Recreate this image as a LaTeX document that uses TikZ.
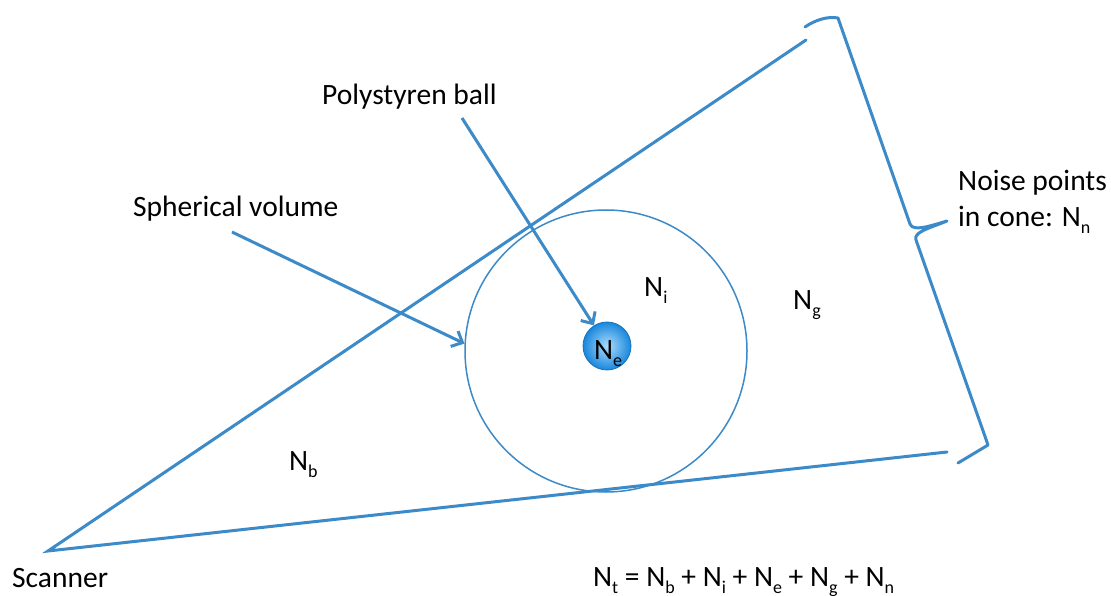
\documentclass[tikz,border=0pt]{standalone}
\usepackage{fontspec}
\setmainfont{Carlito}
\usetikzlibrary{arrows.meta}
\definecolor{lineblue}{RGB}{60,138,200}
\definecolor{ballin}{RGB}{170,220,252}
\definecolor{ballout}{RGB}{25,135,220}
\newcommand\mysub[1]{\raisebox{-0.24em}{\fontsize{18}{18}\selectfont #1}}
\tikzset{
  conel/.style={draw=lineblue,line width=3pt},
  pointer/.style={draw=lineblue,line width=3pt,-{Straight Barb[length=9pt,width=17pt]}},
  lbl/.style={inner sep=0pt,anchor=base west,font=\fontsize{29.5}{35}\selectfont},
}
\begin{document}
\begin{tikzpicture}[x=1pt,y=-1pt]
\useasboundingbox (0,0) rectangle (1111,596);
% cone
\coordinate (scan) at (48,551);
\coordinate (top) at (806,40);
\coordinate (bot) at (947,452);
\draw[conel,line cap=round] (top) -- (scan) -- (bot);
% spherical volume
\node[circle,draw=lineblue,line width=1.5pt,minimum size=282pt,inner sep=0pt] (sph) at (606,351) {};
% polystyrene ball
\shade[inner color=ballin,outer color=ballout] (607,346) circle (24pt);
\node[circle,draw=ballout!85!black,line width=0.8pt,minimum size=48pt,inner sep=0pt] (ne) at (607,346) {};
\node[lbl] (nel) at (594,359) {N\mysub{e}};
% brace
\draw[draw=lineblue,line width=3pt,line cap=round,line join=round]
  (805,27) .. controls (815,20) and (828,16) .. (838,18) -- (910,224)
  .. controls (913,232) and (930,226) .. (947,221)
  .. controls (930,228) and (913,232) .. (916,240) -- (988,445) -- (958,463);
% labels
\node[lbl] (poly) at (322,105) {Polystyren ball};
\node[lbl] (spv) at (133,217) {Spherical volume};
\node[lbl] (scn) at (12,587) {Scanner};
\node[lbl] (noise1) at (958,191) {Noise points};
\node[lbl] (noise2) at (958,226) {in cone: N\mysub{n}};
\node[lbl] (ni) at (644,296) {N\mysub{i}};
\node[lbl] (ng) at (793,309) {N\mysub{g}};
\node[lbl] (nb) at (289,470) {N\mysub{b}};
\node[lbl] (eq) at (593,586) {N\mysub{t} = N\mysub{b} + N\mysub{i} + N\mysub{e} + N\mysub{g} + N\mysub{n}};
% pointers
\coordinate (ptail) at (462,118);
\coordinate (stail) at (232,232);
\draw[pointer] (ptail) -- (ne);
\draw[pointer] (stail) -- (sph.177);
\end{tikzpicture}
\end{document}
